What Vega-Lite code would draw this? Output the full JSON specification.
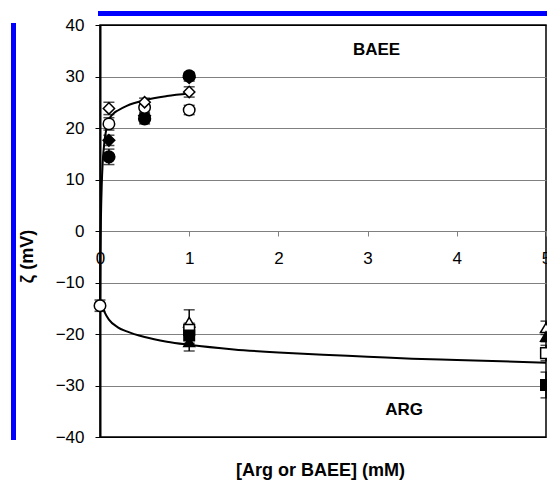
{
  "$schema": "https://vega.github.io/schema/vega-lite/v6.json",
  "autosize": "none",
  "width": 446,
  "height": 412,
  "padding": {"left": 100, "top": 25, "right": 1, "bottom": 44},
  "background": "white",
  "config": {
    "view": {"stroke": "black", "strokeWidth": 1.5},
    "font": "Liberation Sans"
  },
  "datasets": {
    "points": [
      {"series": "B3", "x": 0, "y": -14.5, "lo": -15.6, "hi": -13.4},
      {"series": "B1", "x": 0.1, "y": 14.4, "lo": 12.9, "hi": 15.9},
      {"series": "B1", "x": 0.5, "y": 21.8, "lo": 20.8, "hi": 22.8},
      {"series": "B1", "x": 1, "y": 30.1, "lo": 29.4, "hi": 30.8},
      {"series": "B2", "x": 0.1, "y": 17.6, "lo": 16.6, "hi": 18.6},
      {"series": "B2", "x": 0.5, "y": 22.4, "lo": 21.4, "hi": 23.4},
      {"series": "B2", "x": 1, "y": 29.8, "lo": 29.1, "hi": 30.5},
      {"series": "B3", "x": 0.1, "y": 20.8, "lo": 19.6, "hi": 22.0},
      {"series": "B3", "x": 0.5, "y": 24.0, "lo": 23.0, "hi": 25.0},
      {"series": "B3", "x": 1, "y": 23.5, "lo": 22.6, "hi": 24.4},
      {"series": "B4", "x": 0.1, "y": 23.8, "lo": 22.6, "hi": 25.0},
      {"series": "B4", "x": 0.5, "y": 25.0, "lo": 24.2, "hi": 25.8},
      {"series": "B4", "x": 1, "y": 27.0, "lo": 26.0, "hi": 28.0},
      {"series": "A1", "x": 1, "y": -17.7, "lo": -20.1, "hi": -15.3},
      {"series": "A1", "x": 5, "y": -18.8, "lo": -20.1, "hi": -17.5},
      {"series": "A2", "x": 1, "y": -21.5, "lo": -23.3, "hi": -19.7},
      {"series": "A2", "x": 5, "y": -20.5, "lo": -21.5, "hi": -19.5},
      {"series": "A3", "x": 1, "y": -19.2, "lo": -20.5, "hi": -17.9},
      {"series": "A3", "x": 5, "y": -23.7, "lo": -25.2, "hi": -22.2},
      {"series": "A4", "x": 1, "y": -20.3, "lo": -21.8, "hi": -18.8},
      {"series": "A4", "x": 5, "y": -29.9, "lo": -32.4, "hi": -27.4}
    ],
    "curves": [
      {"curve": "BAEE", "x": 0, "y": -14.5},
      {"curve": "BAEE", "x": 0.002, "y": -9.6},
      {"curve": "BAEE", "x": 0.005, "y": -4.1},
      {"curve": "BAEE", "x": 0.01, "y": 2.1},
      {"curve": "BAEE", "x": 0.02, "y": 9.2},
      {"curve": "BAEE", "x": 0.03, "y": 13.2},
      {"curve": "BAEE", "x": 0.05, "y": 17.4},
      {"curve": "BAEE", "x": 0.075, "y": 20.1},
      {"curve": "BAEE", "x": 0.1, "y": 21.6},
      {"curve": "BAEE", "x": 0.15, "y": 22.8},
      {"curve": "BAEE", "x": 0.2, "y": 23.4},
      {"curve": "BAEE", "x": 0.3, "y": 24.3},
      {"curve": "BAEE", "x": 0.5, "y": 25.4},
      {"curve": "BAEE", "x": 0.75, "y": 26.2},
      {"curve": "BAEE", "x": 1, "y": 26.7},
      {"curve": "ARG", "x": 0, "y": -14.5},
      {"curve": "ARG", "x": 0.03, "y": -14.8},
      {"curve": "ARG", "x": 0.05, "y": -15.7},
      {"curve": "ARG", "x": 0.1, "y": -17.2},
      {"curve": "ARG", "x": 0.2, "y": -18.7},
      {"curve": "ARG", "x": 0.3, "y": -19.5},
      {"curve": "ARG", "x": 0.5, "y": -20.6},
      {"curve": "ARG", "x": 0.75, "y": -21.5},
      {"curve": "ARG", "x": 1, "y": -22.1},
      {"curve": "ARG", "x": 1.5, "y": -23.0},
      {"curve": "ARG", "x": 2, "y": -23.6},
      {"curve": "ARG", "x": 2.5, "y": -24.05},
      {"curve": "ARG", "x": 3, "y": -24.4},
      {"curve": "ARG", "x": 3.5, "y": -24.8},
      {"curve": "ARG", "x": 4, "y": -25.05},
      {"curve": "ARG", "x": 4.5, "y": -25.3},
      {"curve": "ARG", "x": 5, "y": -25.6}
    ],
    "labels": [
      {"label": "BAEE", "x": 3.1, "y": 35.2},
      {"label": "ARG", "x": 3.41, "y": -34.8}
    ]
  },
  "layer": [
    {
      "layer": [
        {
          "data": {"name": "curves"},
          "mark": {"type": "line", "color": "black", "strokeWidth": 2, "interpolate": "monotone"},
          "encoding": {
            "x": {
              "field": "x", "type": "quantitative",
              "scale": {"domain": [0, 5], "nice": false, "zero": false},
              "axis": {
                "orient": "bottom", "offset": -206, "values": [0, 1, 2, 3, 4, 5], "format": "d",
                "grid": false, "domainColor": "#808080", "domainWidth": 1,
                "tickColor": "#808080", "tickSize": 5, "tickWidth": 1,
                "labelFontSize": 17, "labelFont": "Liberation Sans", "labelColor": "black",
                "labelPadding": 14, "labelFlush": false, "labelOverlap": false, "labelBaseline": "top",
                "title": "[Arg or BAEE] (mM)", "titleFont": "Liberation Sans", "titleFontSize": 18,
                "titleFontWeight": "bold", "titleColor": "black",
                "titleX": 220, "titleY": 244, "titleBaseline": "alphabetic", "titleAlign": "center"
              }
            },
            "y": {
              "field": "y", "type": "quantitative",
              "scale": {"domain": [-40, 40], "nice": false, "zero": false},
              "axis": {
                "orient": "left", "values": [-40, -30, -20, -10, 0, 10, 20, 30, 40], "format": "d",
                "grid": true,
                "gridColor": {"condition": {"test": "abs(datum.value) == 40", "value": "black"}, "value": "#808080"},
                "gridWidth": 1, "gridOpacity": 1,
                "domainColor": "black", "domainWidth": 2,
                "tickColor": "black", "tickSize": 5, "tickWidth": 1,
                "labelFontSize": 17, "labelFont": "Liberation Sans", "labelColor": "black",
                "labelPadding": 11, "labelFlush": false, "labelOverlap": false,
                "title": "ζ (mV)", "titleFont": "Liberation Sans", "titleFontSize": 18,
                "titleFontWeight": "bold", "titleColor": "black",
                "titleAngle": 270, "titleX": -68, "titleY": 231,
                "titleBaseline": "alphabetic", "titleAlign": "center"
              }
            },
            "detail": {"field": "curve", "type": "nominal"}
          }
        },
        {
          "data": {"name": "points"},
          "mark": {"type": "rule", "color": "black", "strokeWidth": 1.5},
          "encoding": {
            "x": {"field": "x", "type": "quantitative"},
            "y": {"field": "lo", "type": "quantitative"},
            "y2": {"field": "hi"}
          }
        },
        {
          "data": {"name": "points"},
          "mark": {"type": "tick", "orient": "horizontal", "size": 11, "thickness": 1.5, "color": "black"},
          "encoding": {
            "x": {"field": "x", "type": "quantitative"},
            "y": {"field": "lo", "type": "quantitative"}
          }
        },
        {
          "data": {"name": "points"},
          "mark": {"type": "tick", "orient": "horizontal", "size": 11, "thickness": 1.5, "color": "black"},
          "encoding": {
            "x": {"field": "x", "type": "quantitative"},
            "y": {"field": "hi", "type": "quantitative"}
          }
        },
        {
          "data": {"name": "points"},
          "mark": {"type": "point", "filled": true, "stroke": "black", "strokeWidth": 1.5, "opacity": 1, "strokeOpacity": 1, "fillOpacity": 1},
          "encoding": {
            "x": {"field": "x", "type": "quantitative"},
            "y": {"field": "y", "type": "quantitative"},
            "shape": {
              "field": "series", "type": "nominal", "legend": null,
              "scale": {
                "domain": ["B1", "B2", "B3", "B4", "A1", "A2", "A3", "A4"],
                "range": ["circle", "diamond", "circle", "diamond", "triangle-up", "triangle-up", "square", "square"]
              }
            },
            "fill": {
              "field": "series", "type": "nominal", "legend": null,
              "scale": {
                "domain": ["B1", "B2", "B3", "B4", "A1", "A2", "A3", "A4"],
                "range": ["black", "black", "white", "white", "white", "black", "white", "black"]
              }
            },
            "size": {
              "field": "series", "type": "nominal", "legend": null,
              "scale": {
                "domain": ["B1", "B2", "B3", "B4", "A1", "A2", "A3", "A4"],
                "range": [140, 110, 140, 110, 90, 90, 80, 80]
              }
            }
          }
        },
        {
          "data": {"name": "labels"},
          "mark": {"type": "text", "font": "Liberation Sans", "fontSize": 17, "fontWeight": "bold", "color": "black", "align": "center", "baseline": "middle"},
          "encoding": {
            "x": {"field": "x", "type": "quantitative"},
            "y": {"field": "y", "type": "quantitative"},
            "text": {"field": "label", "type": "nominal"}
          }
        }
      ]
    },
    {
      "data": {"name": "labels"},
      "mark": {"type": "point", "opacity": 0},
      "encoding": {
        "x": {
          "field": "x", "type": "quantitative",
          "scale": {"domain": [0, 5], "nice": false, "zero": false},
          "axis": {"orient": "top", "offset": 12, "domainColor": "#0000ff", "domainWidth": 5, "domainCap": "square", "labels": false, "ticks": false, "grid": false, "title": null}
        },
        "y": {
          "field": "y", "type": "quantitative",
          "scale": {"domain": [-40, 40], "nice": false, "zero": false},
          "axis": {"orient": "left", "offset": 87, "domainColor": "#0000ff", "domainWidth": 5, "domainCap": "square", "labels": false, "ticks": false, "grid": false, "title": null}
        }
      }
    }
  ],
  "resolve": {"axis": {"x": "independent", "y": "independent"}}
}
